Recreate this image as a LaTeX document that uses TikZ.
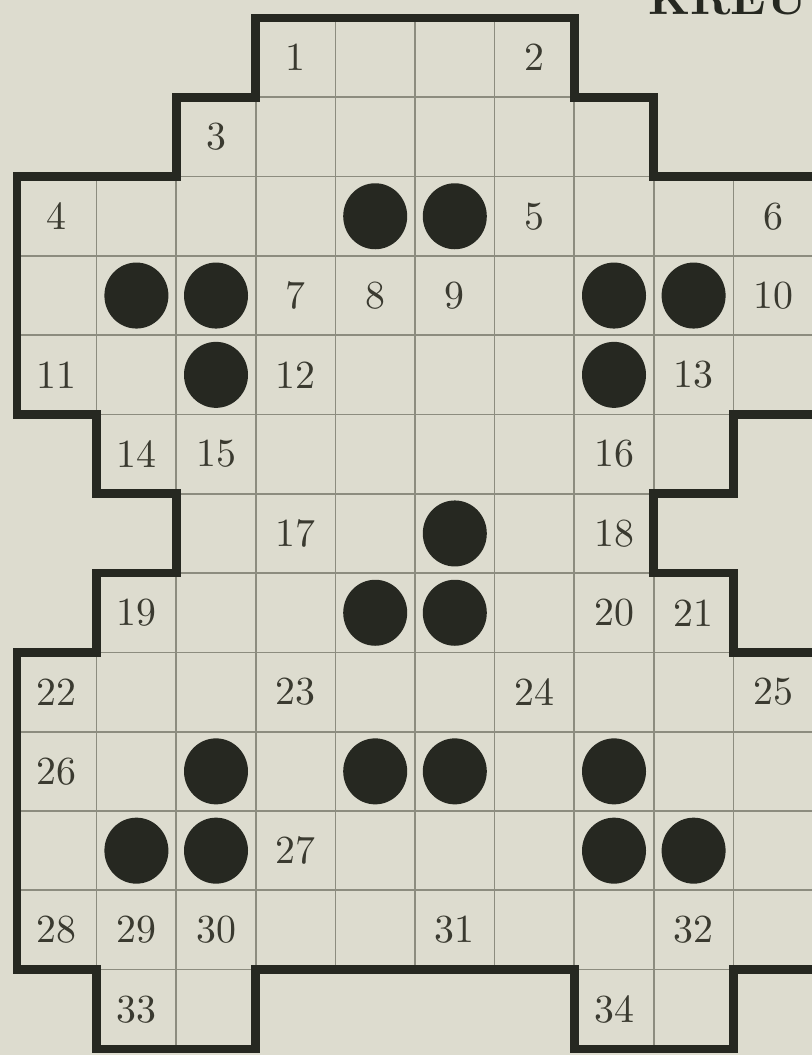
\documentclass[tikz,border=0pt]{standalone}
\usepackage{fontspec}
\usetikzlibrary{shapes.geometric}
\newfontfamily\gridnumfont{lmroman10-regular.otf}
\newfontfamily\gridtitlefont{lmroman10-bold.otf}
\definecolor{paper}{RGB}{221,220,207}
\definecolor{ink}{RGB}{38,40,33}
\definecolor{numink}{RGB}{58,58,48}
\definecolor{gridgray}{RGB}{140,140,127}
\tikzset{
  thinline/.style={draw=gridgray, line width=0.5mm},
  border/.style={draw=ink, line width=2.6mm, line join=miter},
  dot/.style={ellipse, fill=ink, minimum width=19.2mm, minimum height=19.8mm, inner sep=0pt},
  num/.style={text=numink, font=\gridnumfont\fontsize{34}{36}\selectfont, inner sep=0pt},
  titletext/.style={text=ink, font=\gridtitlefont\fontsize{40}{42}\selectfont, inner sep=0pt},
}
\begin{document}
\begin{tikzpicture}[x=0.3mm,y=-0.3mm]
  \useasboundingbox (0,0) rectangle (812,1055);
  \fill[paper] (0,0) rectangle (812,1055);
  \clip (0,0) rectangle (812,1055);
  \node[titletext, anchor=base west] (title) at (648,14) {KREU};
  \begin{scope}[shift={(17,18)}, x=23.88mm, y=-23.79mm]
    % thin horizontal grid lines
    \foreach \r/\a/\b in {1/2/8, 2/0/10, 3/0/10, 4/0/10, 5/0/10, 6/1/9, 7/1/9, 8/0/10, 9/0/10, 10/0/10, 11/0/10, 12/0/10}
      \draw[thinline] (\a,\r) -- (\b,\r);
    % thin vertical grid lines
    \foreach \r/\f/\l in {0/3/6, 1/2/7, 2/0/9, 3/0/9, 4/0/9, 5/1/8, 6/2/7, 7/1/8, 8/0/9, 9/0/9, 10/0/9, 11/0/9, 12/1/2, 12/7/8}{
      \pgfmathtruncatemacro\s{\f+1}
      \foreach \c in {\s,...,\l}
        \draw[thinline] (\c,\r) -- (\c,\r+1);
    }
    % thick outline
    \draw[border] (3,0) -- (7,0) -- (7,1) -- (8,1) -- (8,2) -- (10.1,2) -- (10.1,5) -- (9,5)
      -- (9,6) -- (8,6) -- (8,7) -- (9,7) -- (9,8) -- (10.1,8) -- (10.1,12) -- (9,12)
      -- (9,13) -- (7,13) -- (7,12) -- (3,12) -- (3,13) -- (1,13) -- (1,12) -- (0,12)
      -- (0,8) -- (1,8) -- (1,7) -- (2,7) -- (2,6) -- (1,6) -- (1,5) -- (0,5)
      -- (0,2) -- (2,2) -- (2,1) -- (3,1) -- cycle;
    % black dots
    \foreach \r/\c in {2/4, 2/5, 3/1, 3/2, 3/7, 3/8, 4/2, 4/7, 6/5, 7/4, 7/5, 9/2, 9/4, 9/5, 9/7, 10/1, 10/2, 10/7, 10/8}
      \node[dot] (d\r-\c) at (\c+0.5,\r+0.5) {};
    % numbers
    \foreach \r/\c/\n in {0/3/1, 0/6/2, 1/2/3, 2/0/4, 2/6/5, 2/9/6, 3/3/7, 3/4/8, 3/5/9, 3/9/10,
        4/0/11, 4/3/12, 4/8/13, 5/1/14, 5/2/15, 5/7/16, 6/3/17, 6/7/18, 7/1/19, 7/7/20, 7/8/21,
        8/0/22, 8/3/23, 8/6/24, 8/9/25, 9/0/26, 10/3/27, 11/0/28, 11/1/29, 11/2/30, 11/5/31,
        11/8/32, 12/1/33, 12/7/34}
      \node[num] (n\n) at (\c+0.5,\r+0.5) {\n};
  \end{scope}
\end{tikzpicture}
\end{document}
